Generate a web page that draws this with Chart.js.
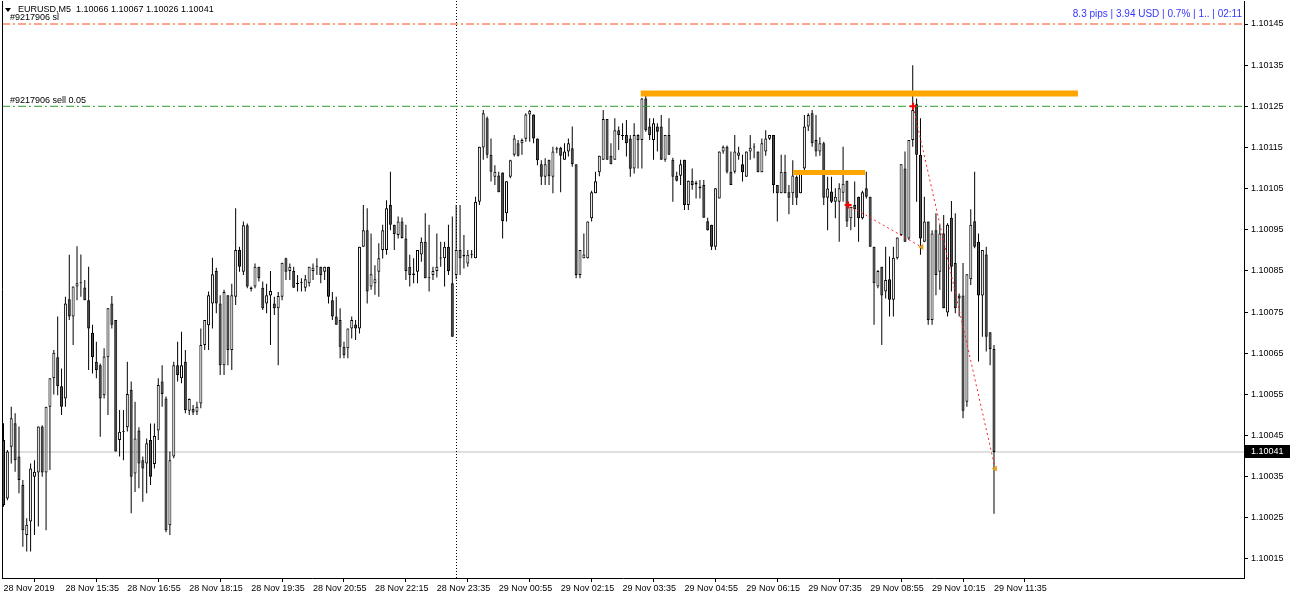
<!DOCTYPE html>
<html>
<head>
<meta charset="utf-8">
<script src="https://cdn.jsdelivr.net/npm/chart.js@4.4.1/dist/chart.umd.min.js"></script>
<style>
  html, body { margin: 0; padding: 0; background: #fff; }
  #wrap { width: 1290px; height: 600px; position: relative; }
</style>
</head>
<body>
<div id="wrap"><canvas id="chart"></canvas></div>
<script>
const symbolTitle = "EURUSD,M5  1.10066 1.10067 1.10026 1.10041";
const infoText = "8.3 pips | 3.94 USD | 0.7% | 1.. | 02:11";
const slLabel = "#9217906 sl";
const sellLabel = "#9217906 sell 0.05";

const timeTickBars = [0, 16, 32, 48, 64, 80, 96, 112, 128, 144, 160, 176, 192, 208, 224, 240, 256];
const timeLabels = ["28 Nov 2019", "28 Nov 15:35", "28 Nov 16:55", "28 Nov 18:15", "28 Nov 19:35",
  "28 Nov 20:55", "28 Nov 22:15", "28 Nov 23:35", "29 Nov 00:55", "29 Nov 02:15", "29 Nov 03:35",
  "29 Nov 04:55", "29 Nov 06:15", "29 Nov 07:35", "29 Nov 08:55", "29 Nov 10:15", "29 Nov 11:35"];
const priceTicks = [1.10015, 1.10025, 1.10035, 1.10045, 1.10055, 1.10065, 1.10075,
  1.10085, 1.10095, 1.10105, 1.10115, 1.10125, 1.10135, 1.10145];

// M5 bars, one row = 16 bars
const opens = [
  1.100439,1.100297,1.100423,1.100480,1.100399,1.100330,1.100208,1.100241,1.100350,1.100360,1.100472,1.100360,1.100520,1.100589,1.100640,1.100570,
  1.100540,1.100781,1.100739,1.100812,1.100820,1.100810,1.100779,1.100700,1.100629,1.100621,1.100548,1.100640,1.100771,1.100731,1.100439,1.100459,
  1.100470,1.100561,1.100358,1.100462,1.100390,1.100382,1.100439,1.100381,1.100462,1.100581,1.100540,1.100232,1.100399,1.100621,1.100589,1.100629,
  1.100510,1.100515,1.100508,1.100528,1.100670,1.100718,1.100771,1.100850,1.100771,1.100621,1.100791,1.100658,1.100787,1.100901,1.100848,1.100961,
  1.100810,1.100812,1.100860,1.100809,1.100771,1.100790,1.100771,1.100759,1.100787,1.100881,1.100850,1.100850,1.100820,1.100820,1.100809,1.100820,
  1.100850,1.100860,1.100860,1.100848,1.100860,1.100779,1.100739,1.100731,1.100666,1.100662,1.100710,1.100720,1.100710,1.100909,1.100949,1.100812,
  1.100820,1.100848,1.100901,1.100901,1.101010,1.100962,1.100937,1.100970,1.100929,1.100860,1.100840,1.100848,1.100890,1.100921,1.100832,1.100840,
  1.100850,1.100880,1.100881,1.100909,1.100820,1.100840,1.100901,1.100885,1.100868,1.100889,1.100881,1.101018,1.101150,1.101221,1.101132,1.101079,
  1.101082,1.101089,1.100990,1.101079,1.101132,1.101160,1.101160,1.101171,1.101230,1.101230,1.101172,1.101109,1.101079,1.101120,1.101079,1.101145,
  1.101149,1.101120,1.101140,1.101148,1.101109,1.100840,1.100881,1.100881,1.100978,1.101039,1.101090,1.101120,1.101219,1.101130,1.101120,1.101192,
  1.101180,1.101180,1.101172,1.101099,1.101180,1.101168,1.101269,1.101201,1.101168,1.101201,1.101201,1.101120,1.101180,1.101120,1.101081,1.101081,
  1.101120,1.101010,1.101069,1.101060,1.101055,1.101059,1.100971,1.100962,1.100909,1.101026,1.101140,1.101152,1.101091,1.101091,1.101130,1.101109,
  1.101079,1.101140,1.101150,1.101140,1.101090,1.101140,1.101171,1.101180,1.101059,1.101039,1.101091,1.101041,1.101039,1.101079,1.101039,1.101099,
  1.101201,1.101233,1.101168,1.101140,1.101160,1.101028,1.101043,1.101018,1.101018,1.101040,1.101069,1.100978,1.101010,1.101030,1.100978,1.101051,
  1.101030,1.100909,1.100812,1.100860,1.100800,1.100830,1.100780,1.100881,1.100937,1.101099,1.100929,1.101168,1.101255,1.101132,1.100921,1.100970,
  1.100731,1.100949,1.100848,1.100941,1.100749,1.100979,1.100869,1.100790,1.100790,1.100532,1.100830,1.100971,1.100921,1.100790,1.100890,1.100701,
  1.100660
];
const highs = [
  1.100480,1.100415,1.100520,1.100504,1.100472,1.100342,1.100249,1.100382,1.100390,1.100472,1.100475,1.100520,1.100589,1.100658,1.100739,1.100613,
  1.100787,1.100889,1.100812,1.100910,1.100890,1.100828,1.100860,1.100719,1.100678,1.100625,1.100662,1.100760,1.100789,1.100731,1.100512,1.100512,
  1.100629,1.100581,1.100532,1.100470,1.100399,1.100443,1.100479,1.100479,1.100589,1.100621,1.100545,1.100411,1.100629,1.100678,1.100702,1.100658,
  1.100540,1.100524,1.100532,1.100710,1.100731,1.100800,1.100882,1.100858,1.100791,1.100804,1.100791,1.100819,1.101002,1.100909,1.100970,1.100965,
  1.100812,1.100868,1.100860,1.100824,1.100819,1.100850,1.100787,1.100799,1.100870,1.100882,1.100868,1.100860,1.100840,1.100832,1.100840,1.100860,
  1.100868,1.100881,1.100860,1.100860,1.100860,1.100799,1.100787,1.100759,1.100678,1.100710,1.100739,1.100731,1.100909,1.101010,1.101002,1.100941,
  1.100864,1.100917,1.100962,1.101022,1.101091,1.100962,1.100982,1.100980,1.100962,1.100889,1.100881,1.100901,1.100931,1.100990,1.100962,1.100860,
  1.100941,1.100921,1.100921,1.100962,1.100982,1.101010,1.101010,1.100937,1.100901,1.100901,1.101030,1.101152,1.101241,1.101225,1.101172,1.101107,
  1.101091,1.101089,1.101068,1.101120,1.101180,1.101168,1.101172,1.101233,1.101241,1.101230,1.101172,1.101119,1.101124,1.101120,1.101152,1.101152,
  1.101152,1.101160,1.101172,1.101201,1.101109,1.100901,1.100941,1.100970,1.101045,1.101091,1.101130,1.101241,1.101219,1.101160,1.101221,1.101201,
  1.101209,1.101217,1.101180,1.101209,1.101182,1.101270,1.101275,1.101221,1.101221,1.101209,1.101229,1.101180,1.101221,1.101125,1.101091,1.101120,
  1.101120,1.101070,1.101099,1.101069,1.101071,1.101071,1.100979,1.100962,1.101051,1.101140,1.101155,1.101155,1.101140,1.101180,1.101152,1.101132,
  1.101140,1.101180,1.101160,1.101140,1.101172,1.101192,1.101180,1.101180,1.101059,1.101132,1.101132,1.101059,1.101119,1.101082,1.101090,1.101229,
  1.101233,1.101241,1.101229,1.101175,1.101164,1.101079,1.101079,1.101051,1.101063,1.101152,1.101069,1.101006,1.101067,1.101030,1.101045,1.101091,
  1.101030,1.100909,1.100852,1.100860,1.100909,1.100885,1.100909,1.100931,1.101109,1.101140,1.101168,1.101350,1.101269,1.101221,1.101030,1.100970,
  1.100949,1.100990,1.100962,1.100986,1.100966,1.101020,1.100990,1.100795,1.100869,1.100842,1.101000,1.101091,1.100941,1.100901,1.100909,1.100701,
  1.100670
];
const lows = [
  1.100277,1.100293,1.100382,1.100362,1.100310,1.100180,1.100168,1.100168,1.100208,1.100229,1.100350,1.100220,1.100366,1.100550,1.100548,1.100500,
  1.100520,1.100731,1.100670,1.100779,1.100787,1.100779,1.100609,1.100601,1.100589,1.100447,1.100540,1.100500,1.100710,1.100411,1.100399,1.100390,
  1.100460,1.100261,1.100313,1.100322,1.100289,1.100310,1.100330,1.100370,1.100439,1.100520,1.100215,1.100208,1.100395,1.100581,1.100577,1.100504,
  1.100500,1.100500,1.100500,1.100516,1.100658,1.100658,1.100710,1.100747,1.100597,1.100597,1.100621,1.100609,1.100767,1.100848,1.100840,1.100808,
  1.100800,1.100808,1.100824,1.100755,1.100747,1.100670,1.100743,1.100621,1.100779,1.100828,1.100828,1.100809,1.100800,1.100800,1.100800,1.100812,
  1.100828,1.100840,1.100820,1.100828,1.100771,1.100731,1.100719,1.100638,1.100638,1.100638,1.100686,1.100682,1.100698,1.100909,1.100771,1.100804,
  1.100792,1.100787,1.100880,1.100889,1.100949,1.100901,1.100929,1.100929,1.100828,1.100812,1.100820,1.100820,1.100872,1.100832,1.100800,1.100828,
  1.100834,1.100860,1.100812,1.100840,1.100690,1.100830,1.100840,1.100856,1.100860,1.100881,1.100881,1.101010,1.101120,1.101124,1.101067,1.101059,
  1.101041,1.100929,1.100970,1.101075,1.101128,1.101128,1.101132,1.101164,1.101164,1.101160,1.101107,1.101059,1.101059,1.101059,1.101039,1.101136,
  1.101041,1.101120,1.101128,1.101103,1.100832,1.100832,1.100881,1.100880,1.100970,1.101039,1.101080,1.101120,1.101120,1.101109,1.101120,1.101144,
  1.101168,1.101128,1.101079,1.101087,1.101099,1.101099,1.101188,1.101168,1.101120,1.101140,1.101120,1.101115,1.101132,1.101018,1.101067,1.101059,
  1.100998,1.100998,1.101047,1.101026,1.101026,1.100979,1.100948,1.100901,1.100901,1.101026,1.101135,1.101087,1.101059,1.101087,1.101120,1.101067,
  1.101079,1.101120,1.101124,1.101090,1.101090,1.101130,1.101168,1.101039,1.100970,1.101039,1.101039,1.100988,1.101010,1.101010,1.101039,1.101090,
  1.101190,1.101152,1.101128,1.101130,1.101010,1.100949,1.101015,1.100978,1.100921,1.101018,1.100957,1.100949,1.100957,1.100921,1.100975,1.101026,
  1.100909,1.100719,1.100808,1.100670,1.100783,1.100739,1.100739,1.100878,1.100935,1.100920,1.100925,1.101152,1.101018,1.100889,1.100920,1.100719,
  1.100719,1.100791,1.100804,1.100759,1.100739,1.100800,1.100747,1.100739,1.100492,1.100520,1.100816,1.100905,1.100630,1.100690,1.100654,1.100621,
  1.100260
];
const closes = [
  1.100281,1.100411,1.100492,1.100390,1.100342,1.100220,1.100233,1.100370,1.100362,1.100472,1.100360,1.100520,1.100589,1.100651,1.100570,1.100520,
  1.100771,1.100739,1.100812,1.100820,1.100820,1.100779,1.100710,1.100640,1.100609,1.100540,1.100642,1.100759,1.100719,1.100411,1.100459,1.100459,
  1.100551,1.100350,1.100443,1.100382,1.100370,1.100431,1.100350,1.100449,1.100573,1.100551,1.100220,1.100390,1.100621,1.100597,1.100621,1.100512,
  1.100539,1.100506,1.100520,1.100670,1.100731,1.100791,1.100842,1.100771,1.100621,1.100799,1.100658,1.100791,1.100901,1.100860,1.100961,1.100812,
  1.100806,1.100860,1.100832,1.100759,1.100791,1.100801,1.100759,1.100789,1.100870,1.100848,1.100860,1.100809,1.100818,1.100820,1.100830,1.100860,
  1.100858,1.100860,1.100840,1.100860,1.100787,1.100739,1.100719,1.100666,1.100645,1.100710,1.100731,1.100710,1.100909,1.100949,1.100800,1.100842,
  1.100830,1.100881,1.100949,1.101002,1.100962,1.100940,1.100970,1.100930,1.100850,1.100840,1.100844,1.100901,1.100921,1.100832,1.100832,1.100850,
  1.100860,1.100881,1.100909,1.100850,1.100690,1.100901,1.100881,1.100889,1.100889,1.100889,1.101018,1.101152,1.101233,1.101132,1.101091,1.101091,
  1.101041,1.100971,1.101068,1.101119,1.101172,1.101130,1.101168,1.101230,1.101239,1.101172,1.101119,1.101079,1.101109,1.101080,1.101140,1.101148,
  1.101130,1.101140,1.101160,1.101109,1.100840,1.100901,1.100890,1.100970,1.101041,1.101068,1.101130,1.101219,1.101120,1.101109,1.101192,1.101180,
  1.101178,1.101160,1.101098,1.101180,1.101168,1.101269,1.101192,1.101180,1.101209,1.101188,1.101120,1.101180,1.101132,1.101079,1.101069,1.101109,
  1.101010,1.101069,1.101059,1.101065,1.101051,1.100979,1.100949,1.100909,1.101051,1.101140,1.101152,1.101091,1.101059,1.101140,1.101138,1.101090,
  1.101140,1.101149,1.101152,1.101090,1.101160,1.101172,1.101180,1.101059,1.101039,1.101091,1.101039,1.101028,1.101082,1.101028,1.101090,1.101201,
  1.101229,1.101160,1.101140,1.101160,1.101028,1.101050,1.101018,1.101030,1.101051,1.101062,1.100970,1.101006,1.101000,1.100978,1.101041,1.101030,
  1.100909,1.100820,1.100850,1.100790,1.100828,1.100780,1.100882,1.100931,1.101109,1.100921,1.101168,1.101241,1.101132,1.100929,1.100970,1.100731,
  1.100941,1.100840,1.100941,1.100759,1.100962,1.100860,1.100759,1.100783,1.100510,1.100842,1.100962,1.100909,1.100790,1.100901,1.100690,1.100660,
  1.100410
];

// order lines, drawn objects and trade history
const slPrice = 1.10145;
const sellPrice = 1.10125;
const bidPrice = 1.10041;
const daySeparatorBar = 117.08;
const resistanceLines = [
  { from: 164.7, to: 277.7, price: 1.101281, width: 6 },
  { from: 204.1, to: 222.7, price: 1.101089, width: 5 }
];
const trades = [
  { openBar: 218.3, openPrice: 1.10101, closeBar: 237.3, closePrice: 1.100908 },
  { openBar: 235.1, openPrice: 1.10125, closeBar: 256.3, closePrice: 1.10037 }
];

const xMin = -0.39, xMax = 320.62;
const yMin = 1.1001038, yMax = 1.1015059;
const font = '"Liberation Sans", Arial, sans-serif';

function hLine(price, color, dash, order) {
  return {
    type: 'line',
    data: [{ x: xMin, y: price }, { x: xMax, y: price }],
    borderColor: color, borderWidth: 1, borderDash: dash,
    pointRadius: 0, order: order
  };
}

const datasets = [
  hLine(bidPrice, '#c0c0c0', [], 20),
  {
    type: 'line',
    data: [{ x: daySeparatorBar, y: yMin }, { x: daySeparatorBar, y: yMax }],
    borderColor: '#000', borderWidth: 1, borderDash: [1, 2], pointRadius: 0, order: 19
  },
  {
    type: 'bar',
    data: opens.map((o, i) => ({ x: i, y: [lows[i], highs[i]] })),
    backgroundColor: '#000', borderWidth: 0, barThickness: 1,
    grouped: false, inflateAmount: 0, order: 12
  },
  {
    type: 'bar',
    data: opens.map((o, i) => ({ x: i, y: [o, closes[i]] })),
    backgroundColor: ctx => (ctx.dataIndex !== undefined && closes[ctx.dataIndex] < opens[ctx.dataIndex]) ? '#505050' : '#ffffff',
    borderColor: '#000', borderWidth: 1, borderSkipped: false,
    barThickness: 3, minBarLength: 1, grouped: false, inflateAmount: 0, order: 11
  },
  hLine(slPrice, '#ff4a1a', [8, 3, 2, 3], 8),
  hLine(sellPrice, '#2e9b2e', [8, 3, 2, 3], 8)
];

resistanceLines.forEach(r => {
  datasets.push({
    type: 'line',
    data: [{ x: r.from, y: r.price }, { x: r.to, y: r.price }],
    borderColor: '#ffa500', borderWidth: r.width, borderCapStyle: 'butt',
    pointRadius: 0, order: 6
  });
});

trades.forEach(t => {
  datasets.push({
    type: 'line',
    data: [{ x: t.openBar, y: t.openPrice }, { x: t.closeBar, y: t.closePrice }],
    borderColor: '#ff2020', borderWidth: 1, borderDash: [2, 3],
    pointRadius: 0, order: 4
  });
});

datasets.push({
  type: 'line', showLine: false,
  data: trades.map(t => ({ x: t.openBar, y: t.openPrice })),
  pointStyle: 'cross', pointRadius: 3.5, pointBorderWidth: 2,
  pointBorderColor: '#ff0000', order: 1
});
datasets.push({
  type: 'line', showLine: false,
  data: trades.map(t => ({ x: t.closeBar, y: t.closePrice })),
  pointStyle: 'triangle', pointRotation: -90, pointRadius: 3.5, pointBorderWidth: 0,
  pointBackgroundColor: '#e0a020', order: 1
});

const overlayText = {
  id: 'overlayText',
  afterDraw(chart) {
    const ctx = chart.ctx;
    const ys = chart.scales.y;
    ctx.save();
    ctx.font = '9px ' + font;
    ctx.textBaseline = 'middle';
    ctx.fillStyle = '#000';
    ctx.beginPath();
    ctx.moveTo(5, 8); ctx.lineTo(11, 8); ctx.lineTo(8, 12); ctx.closePath();
    ctx.fill();
    ctx.textAlign = 'left';
    ctx.fillText(symbolTitle, 18, 10);
    ctx.fillText(slLabel, 10, ys.getPixelForValue(slPrice) - 6);
    ctx.fillText(sellLabel, 10, ys.getPixelForValue(sellPrice) - 6);

    ctx.font = '10px ' + font;
    ctx.fillStyle = '#3535ff';
    ctx.textAlign = 'right';
    ctx.fillText(infoText, 1242, 14);

    // current bid tag on the price axis
    ctx.font = '9px ' + font;
    const by = Math.round(ys.getPixelForValue(bidPrice));
    ctx.fillStyle = '#000';
    ctx.fillRect(1245, by - 7, 45, 13);
    ctx.fillStyle = '#fff';
    ctx.textAlign = 'left';
    ctx.fillText(bidPrice.toFixed(5), 1251, by);

    // left frame
    ctx.strokeStyle = '#000';
    ctx.lineWidth = 1;
    ctx.beginPath();
    ctx.moveTo(2.5, chart.chartArea.top); ctx.lineTo(2.5, chart.chartArea.bottom);
    ctx.stroke();
    ctx.restore();
  }
};

new Chart(document.getElementById('chart'), {
  type: 'bar',
  data: { datasets: datasets },
  plugins: [overlayText],
  options: {
    responsive: true,
    maintainAspectRatio: false,
    animation: false,
    events: [],
    layout: { autoPadding: false, padding: { left: 2, top: 1, right: 0, bottom: 0 } },
    plugins: { legend: { display: false }, tooltip: { enabled: false } },
    elements: { line: { tension: 0 } },
    scales: {
      x: {
        type: 'linear', position: 'bottom', offset: false,
        min: xMin, max: xMax,
        afterBuildTicks: s => { s.ticks = timeTickBars.map(v => ({ value: v })); },
        afterFit: s => { s.height = 22; s.paddingLeft = 0; s.paddingRight = 0; },
        ticks: {
          autoSkip: false, maxRotation: 0, align: 'start', padding: 1,
          color: '#000', font: { family: font, size: 9 },
          callback: (v, i) => timeLabels[i]
        },
        grid: { drawOnChartArea: false, drawTicks: true, tickLength: 4, color: '#000' },
        border: { display: true, color: '#000' }
      },
      y: {
        type: 'linear', position: 'right',
        min: yMin, max: yMax,
        afterBuildTicks: s => { s.ticks = priceTicks.map(v => ({ value: v })); },
        afterFit: s => { s.width = 46; s.paddingTop = 0; s.paddingBottom = 0; },
        ticks: {
          padding: 3, color: '#000', font: { family: font, size: 9 },
          callback: v => v.toFixed(5)
        },
        grid: { drawOnChartArea: false, drawTicks: true, tickLength: 4, color: '#000' },
        border: { display: true, color: '#000' }
      }
    }
  }
});
</script>
</body>
</html>
